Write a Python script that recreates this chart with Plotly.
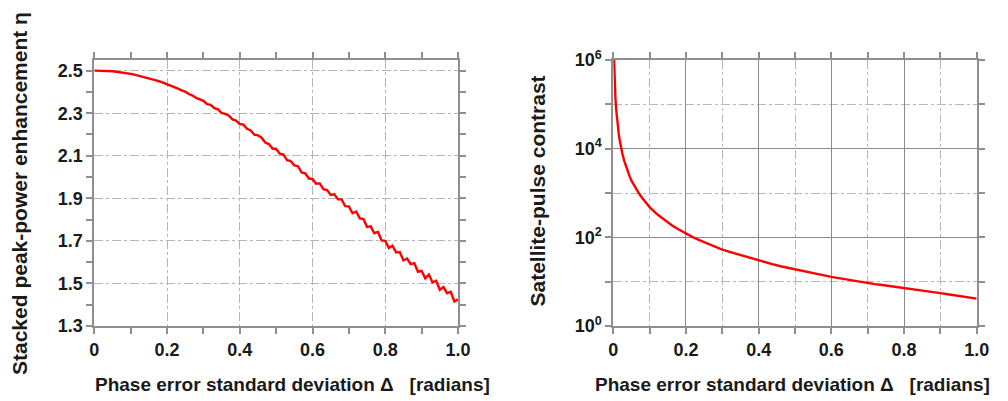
import plotly.graph_objects as go

# ---------------- data ----------------
delta_left = [round(i * 0.01, 2) for i in range(101)]
eta = [
    2.500, 2.500, 2.499, 2.499, 2.498, 2.497, 2.495, 2.493, 2.490, 2.488,
    2.485, 2.481, 2.477, 2.473, 2.469, 2.465, 2.460, 2.454, 2.449, 2.443,
    2.437, 2.431, 2.422, 2.416, 2.407, 2.401, 2.390, 2.383, 2.372, 2.365,
    2.358, 2.343, 2.339, 2.324, 2.318, 2.301, 2.297, 2.288, 2.271, 2.265,
    2.249, 2.246, 2.227, 2.219, 2.199, 2.196, 2.185, 2.162, 2.155, 2.134,
    2.132, 2.110, 2.106, 2.079, 2.075, 2.055, 2.051, 2.022, 2.018, 1.993,
    1.991, 1.969, 1.970, 1.943, 1.939, 1.916, 1.919, 1.895, 1.895, 1.863,
    1.862, 1.830, 1.838, 1.806, 1.803, 1.766, 1.768, 1.736, 1.742, 1.702,
    1.700, 1.666, 1.677, 1.645, 1.647, 1.608, 1.617, 1.591, 1.595, 1.555,
    1.559, 1.524, 1.542, 1.505, 1.512, 1.470, 1.483, 1.454, 1.461, 1.415,
    1.425,
]

delta_right = [
    0.0022, 0.003, 0.004, 0.005, 0.006, 0.008, 0.01, 0.0125, 0.015, 0.0175,
    0.02, 0.025, 0.03, 0.035, 0.04, 0.045, 0.05, 0.06, 0.07, 0.08, 0.09, 0.10,
    0.12, 0.14, 0.16, 0.18, 0.20, 0.22, 0.24, 0.26, 0.28, 0.30, 0.32, 0.34,
    0.36, 0.38, 0.40, 0.42, 0.44, 0.46, 0.48, 0.50, 0.52, 0.54, 0.56, 0.58,
    0.60, 0.62, 0.64, 0.66, 0.68, 0.70, 0.72, 0.74, 0.76, 0.78, 0.80, 0.82,
    0.84, 0.86, 0.88, 0.90, 0.92, 0.94, 0.96, 0.98, 1.00,
]
contrast = [
    1.0e6, 4.5e5, 2.8e5, 1.9e5, 1.3e5, 7.5e4, 4.8e4, 3.1e4, 2.15e4, 1.57e4,
    1.2e4, 7.7e3, 5.3e3, 3.9e3, 3.0e3, 2.37e3, 1.9e3, 1.33e3, 1.0e3, 760, 600, 480,
    335, 248, 190, 150, 121, 100, 84, 72, 61, 53, 47, 42,
    37, 33, 29.5, 27, 24.5, 22.3, 20.5, 19, 17.6, 16.2, 15.0, 13.9,
    12.8, 12.0, 11.2, 10.5, 9.8, 9.2, 8.8, 8.4, 8.0, 7.6, 7.2, 6.85,
    6.5, 6.2, 5.85, 5.5, 5.2, 4.9, 4.65, 4.4, 4.15,
]

x_ticks = [0, 0.2, 0.4, 0.6, 0.8, 1.0]
x_ticktext = ["0", "0.2", "0.4", "0.6", "0.8", "1.0"]
x_minor = [0.1, 0.3, 0.5, 0.7, 0.9]
eta_ticks = [1.3, 1.5, 1.7, 1.9, 2.1, 2.3, 2.5]
eta_ticktext = ["1.3", "1.5", "1.7", "1.9", "2.1", "2.3", "2.5"]
eta_minor = [1.4, 1.6, 1.8, 2.0, 2.2, 2.4]
c_ticks = [1, 100, 1e4, 1e6]
c_ticktext = ["10<sup>0</sup>", "10<sup>2</sup>", "10<sup>4</sup>", "10<sup>6</sup>"]
c_minor = [10, 1e3, 1e5]

xtitle = "Phase error standard deviation \u0394\u00a0\u00a0 [radians]"
ytitle_left = "Stacked peak-power enhancement \u03b7"
ytitle_right = "Satellite-pulse contrast"

# ---------------- figure ----------------
# the page body keeps its default 8px margin, so the figure is 1000x393
W, H = 1000, 393
FONT = "Liberation Sans, Arial, sans-serif"
tickfont = dict(family=FONT, size=18, color="#1a1a1a", weight="bold")
FRAME = "#8f8f8f"

fig = go.Figure()
fig.add_trace(go.Scatter(x=delta_left, y=eta, mode="lines",
                         line=dict(color="#ff0000", width=2.4),
                         xaxis="x", yaxis="y", showlegend=False))
fig.add_trace(go.Scatter(x=delta_right, y=contrast, mode="lines",
                         line=dict(color="#ff0000", width=2.4),
                         xaxis="x2", yaxis="y2", showlegend=False))

ydom = [1 - 318 / H, 1 - 52 / H]

common_line = dict(showline=True, linecolor=FRAME, linewidth=2, mirror="allticks",
                   ticks="outside", ticklen=6, tickwidth=1.5, tickcolor=FRAME,
                   tickfont=tickfont, zeroline=False, automargin=False)

fig.update_layout(
    width=W, height=H,
    margin=dict(l=0, r=0, t=0, b=0),
    paper_bgcolor="white", plot_bgcolor="white",
    xaxis=dict(domain=[86.3 / W, 450 / W], range=[0, 1.0], anchor="y",
               tickmode="array", tickvals=x_ticks, ticktext=x_ticktext,
               showgrid=True, gridcolor="#b5b5b5", gridwidth=1, griddash="dashdot",
               minor=dict(tickvals=x_minor, ticks="outside", ticklen=6,
                          tickcolor=FRAME, tickwidth=1.5, showgrid=False),
               **common_line),
    yaxis=dict(domain=ydom, range=[1.3, 2.55], anchor="x",
               tickmode="array", tickvals=eta_ticks, ticktext=eta_ticktext,
               showgrid=True, gridcolor="#b5b5b5", gridwidth=1, griddash="dashdot",
               minor=dict(tickvals=eta_minor, ticks="outside", ticklen=6,
                          tickcolor=FRAME, tickwidth=1.5, showgrid=False),
               **common_line),
    xaxis2=dict(domain=[605.3 / W, 968.7 / W], range=[0, 1.0], anchor="y2",
                tickmode="array", tickvals=x_ticks, ticktext=x_ticktext,
                showgrid=True, gridcolor="#8a8a8a", gridwidth=1.3,
                minor=dict(tickvals=x_minor, ticks="outside", ticklen=6,
                           tickcolor=FRAME, tickwidth=1.5, showgrid=True,
                           gridcolor="#b8b8b8", gridwidth=1, griddash="dashdot"),
                **common_line),
    yaxis2=dict(domain=ydom, type="log", range=[0, 6], anchor="x2",
                tickmode="array", tickvals=c_ticks, ticktext=c_ticktext,
                showgrid=True, gridcolor="#8a8a8a", gridwidth=1.3,
                minor=dict(tickvals=c_minor, ticks="outside", ticklen=6,
                           tickcolor=FRAME, tickwidth=1.5, showgrid=True,
                           gridcolor="#b8b8b8", gridwidth=1, griddash="dashdot"),
                **common_line),
)

title_font_x = dict(family=FONT, size=19, color="#1a1a1a", weight="bold")
title_font_y = dict(family=FONT, size=21, color="#1a1a1a", weight="bold")

fig.add_annotation(text=xtitle, xref="paper", yref="paper", x=284 / W, y=1 - 376 / H,
                   showarrow=False, font=title_font_x, xanchor="center", yanchor="middle")
fig.add_annotation(text=xtitle, xref="paper", yref="paper", x=784 / W, y=1 - 376 / H,
                   showarrow=False, font=title_font_x, xanchor="center", yanchor="middle")
fig.add_annotation(text=ytitle_left, xref="paper", yref="paper", x=11 / W, y=1 - 186 / H,
                   showarrow=False, font=title_font_y, textangle=-90,
                   xanchor="center", yanchor="middle")
fig.add_annotation(text=ytitle_right, xref="paper", yref="paper", x=529 / W, y=1 - 183.5 / H,
                   showarrow=False, font=title_font_y, textangle=-90,
                   xanchor="center", yanchor="middle")

fig.write_html("out.html")
